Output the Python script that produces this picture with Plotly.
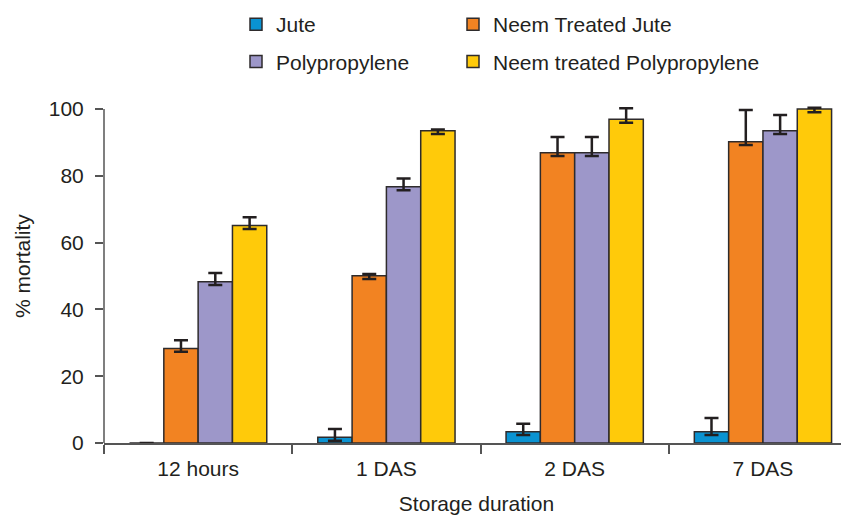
import plotly.graph_objects as go

categories = ["12 hours", "1 DAS", "2 DAS", "7 DAS"]
series_names = ["Jute", "Neem Treated Jute", "Polypropylene", "Neem treated Polypropylene"]
jute = [0, 1.7, 3.4, 3.4]
jute_err = [0, 2.5, 2.4, 4.1]
neem_jute = [28.3, 50.1, 86.9, 90.2]
neem_jute_err = [2.5, 0.5, 4.7, 9.5]
poly = [48.3, 76.7, 86.9, 93.5]
poly_err = [2.6, 2.5, 4.7, 4.7]
neem_poly = [65.1, 93.5, 96.9, 100.0]
neem_poly_err = [2.5, 0.4, 3.3, 0.4]
err_minus = [1.0, 1.0, 1.0, 1.0]
jute_err_minus = [0, 1.0, 1.0, 1.0]
y_ticks = [0, 20, 40, 60, 80, 100]
x_title = "Storage duration"
y_title = "% mortality"

colors = ["#0a93d2", "#f28322", "#9d97c9", "#ffca0a"]
dark = "#231f20"
font_family = "Liberation Sans, Arial, sans-serif"
FS = 21

values = [jute, neem_jute, poly, neem_poly]
errors = [jute_err, neem_jute_err, poly_err, neem_poly_err]
errors_minus = [jute_err_minus, err_minus, err_minus, err_minus]
# left column: Jute, Polypropylene ; right column: the Neem-treated ones
legend_ids = ["legend", "legend2", "legend", "legend2"]

fig = go.Figure()
for i, (name, vals, errs, errm, col, lg) in enumerate(
        zip(series_names, values, errors, errors_minus, colors, legend_ids)):
    fig.add_trace(go.Bar(
        x=categories, y=vals, name=name, legend=lg, legendgroup=f"g{i}",
        marker=dict(color=col, line=dict(color="#2e2b2c", width=1.5)),
        error_y=dict(type="data", symmetric=False, array=errs, arrayminus=errm,
                     visible=True, color=dark, thickness=2.5, width=7),
    ))

# the page adds an 8px body margin, so the figure is drawn 8px smaller
W, H = 841, 508
ML, MT, MB = 96, 96, 73
plot_w = W - ML
plot_h = H - MT - MB

legend_common = dict(
    orientation="v", xref="paper", yref="paper",
    xanchor="left", yanchor="top",
    font=dict(family=font_family, size=FS, color=dark),
    bgcolor="rgba(0,0,0,0)", borderwidth=0,
    traceorder="grouped", tracegroupgap=7, itemclick=False,
)

fig.update_layout(
    width=W, height=H,
    margin=dict(l=ML, r=0, t=MT, b=MB, autoexpand=False),
    paper_bgcolor="white", plot_bgcolor="white",
    barmode="group", bargap=0.271, bargroupgap=0,
    font=dict(family=font_family, size=FS, color=dark),
    legend=dict(x=(228 - ML) / plot_w, y=1 + (MT + 4) / plot_h, **legend_common),
    legend2=dict(x=(445 - ML) / plot_w, y=1 + (MT + 4) / plot_h, **legend_common),
    xaxis=dict(
        type="category", range=[-0.5, 3.457],
        showline=True, linecolor="#555555", linewidth=1.5,
        ticks="outside", tickson="boundaries", ticklen=9, tickwidth=1.5,
        tickcolor="#555555", showgrid=False, ticklabelstandoff=6,
        tickfont=dict(family=font_family, size=FS, color=dark),
        title=dict(text=x_title, standoff=17,
                   font=dict(family=font_family, size=FS, color=dark)),
    ),
    yaxis=dict(
        range=[0, 101.5], tickvals=y_ticks, showline=False,
        ticks="outside", ticklen=8, tickwidth=1.5, tickcolor="#555555",
        showgrid=False, zeroline=False, ticklabelstandoff=7,
        tickfont=dict(family=font_family, size=FS, color=dark),
    ),
    shapes=[dict(type="line", xref="paper", yref="y", x0=0, x1=0, y0=0, y1=100,
                 line=dict(color="#555555", width=1.5))],
    annotations=[dict(
        text=y_title, textangle=-90, showarrow=False,
        xref="paper", yref="paper",
        x=-(ML - 14) / plot_w, y=(H - MB - 258) / plot_h,
        xanchor="center", yanchor="middle",
        font=dict(family=font_family, size=FS, color=dark),
    )],
)

fig.write_html("out.html")
